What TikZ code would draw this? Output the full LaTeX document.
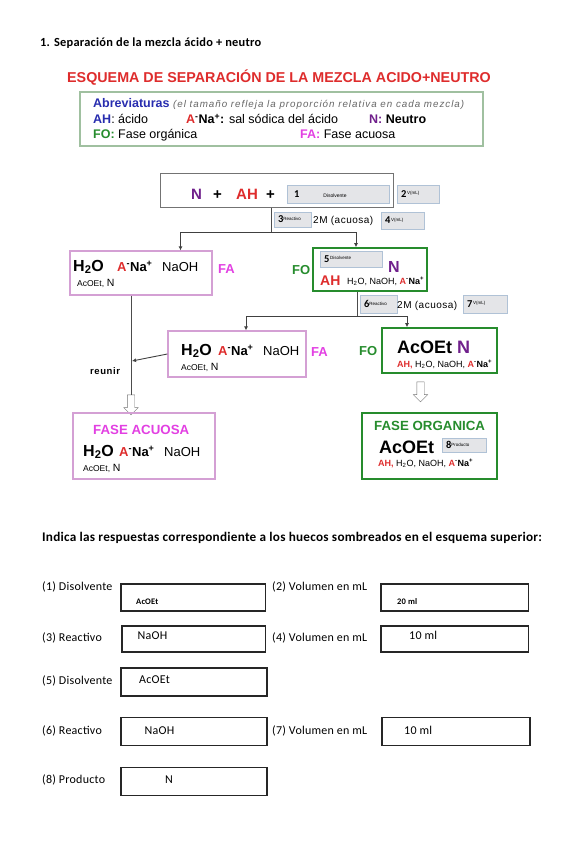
\documentclass[tikz,border=0pt]{standalone}
\usepackage{fontspec}
\setmainfont{Liberation Sans}
\newfontfamily\calfont[LetterSpace=2]{Carlito}
\usetikzlibrary{arrows.meta,positioning,shapes.arrows}
\definecolor{esqred}{RGB}{222,44,44}
\definecolor{abblue}{RGB}{40,45,175}
\definecolor{npurple}{RGB}{112,32,140}
\definecolor{fogreen}{RGB}{38,140,45}
\definecolor{famag}{RGB}{226,64,226}
\definecolor{fabord}{RGB}{212,160,212}
\definecolor{abbord}{RGB}{160,192,160}
\definecolor{hfill}{RGB}{228,229,232}
\definecolor{hdraw}{RGB}{176,194,214}
\newcommand{\fsz}[1]{\fontsize{#1}{#1}\selectfont}
\newcommand{\sodica}{\textbf{\textcolor{esqred}{A}\textsuperscript{-}Na\textsuperscript{+}}}
\newcommand{\hnum}[3]{\makebox[#1][l]{\hspace{3pt}{\calfont\bfseries\fsz{10.5}#2}\raisebox{2.5pt}{\fsz{4.5}#3}}}
\newcommand{\peque}{{\fsz{8.5}AcOEt,}~{\fsz{10.5}N}}

\begin{document}
\begin{tikzpicture}[x=1pt, y=-1pt,
  lbl/.style={anchor=base west, inner sep=0pt},
  hueco/.style={draw=hdraw, fill=hfill, inner sep=0pt, line width=0.8pt},
  caja/.style={draw=black!55, line width=1pt, inner sep=0pt},
  fabox/.style={draw=fabord, line width=1.2pt, inner sep=0pt},
  fobox/.style={draw=fogreen, line width=1.6pt, inner sep=0pt},
  resp/.style={draw=black!85, line width=1.2pt, inner sep=0pt},
  linea/.style={black!70, line width=0.9pt},
  arr/.style={-{Latex[length=4pt,width=4pt]}, black!75, line width=0.9pt},
  flecha/.style={single arrow, draw=black!55, fill=white, shape border rotate=270,
                 minimum height=20pt, single arrow head extend=3.5pt, inner sep=3.5pt},
  pre/.style={lbl, font=\calfont\fsz{12}},
  big/.style={lbl, font=\bfseries\fsz{16}},
  fase/.style={lbl, font=\bfseries\fsz{13}}
]
\useasboundingbox (0,0) rectangle (587,848);

% encabezado
\node[lbl, font=\calfont\bfseries\fsz{12.4}] (tit) at (40,47) {1. Separación de la mezcla ácido + neutro};
\node[anchor=base, inner sep=0pt, font=\bfseries\fsz{14.3}, text=esqred] (esq) at (279,83)
  {ESQUEMA DE SEPARACIÓN DE LA MEZCLA ACIDO+NEUTRO};

% abreviaturas
\node[draw=abbord, line width=1.3pt, minimum width=403pt, minimum height=54pt] (abr) at (281.5,119) {};
\node[lbl, font=\fsz{12.5}] (ab1) at (93,108) {\textcolor{abblue}{\textbf{Abreviaturas}}
  {\fsz{9.8}\itshape\addfontfeature{LetterSpace=10}\color{black!60}(el tamaño refleja la proporción relativa en cada mezcla)}};
\node[lbl, font=\fsz{12.5}] (ab2) at (93,124) {\textcolor{abblue}{\textbf{AH}}: ácido};
\node[lbl, font=\fsz{12.5}] (ab3) at (186,124) {\sodica\textbf{:} sal sódica del ácido};
\node[lbl, font=\fsz{12.5}] (ab4) at (369,124) {\textcolor{npurple}{\textbf{N:}} \textbf{Neutro}};
\node[lbl, font=\fsz{12.5}] (ab5) at (93,139) {\textcolor{fogreen}{\textbf{FO:}} Fase orgánica};
\node[lbl, font=\fsz{12.5}] (ab6) at (300,139) {\textcolor{famag}{\textbf{FA:}} Fase acuosa};

% mezcla inicial
\node[caja, minimum width=233pt, minimum height=34pt] (mez) at (276.5,190) {};
\node[lbl, font=\bfseries\fsz{15}, text=npurple] (mN) at (191,199) {N};
\node[lbl, font=\bfseries\fsz{15}] (mp1) at (213,199) {+};
\node[lbl, font=\bfseries\fsz{15}, text=esqred] (mAH) at (236,199) {AH};
\node[lbl, font=\bfseries\fsz{15}] (mp2) at (266,199) {+};
\node[hueco, minimum width=102pt, minimum height=18pt] (h1) at (338,194)
  {\makebox[98pt][l]{\hspace{5pt}{\calfont\bfseries\fsz{10.5}1}\hspace{24pt}{\fsz{5}Disolvente}}};
\node[hueco, minimum width=42pt, minimum height=18pt] (h2) at (418,194) {\hnum{40pt}{2}{\,V(mL)}};

% primera extraccion
\coordinate (j1) at (271,232);
\draw[linea] (j1 |- mez.south) -- (j1);
\node[hueco, minimum width=37pt, minimum height=15pt] (h3) at (292.5,219.5) {\hnum{35pt}{3}{Reactivo}};
\node[lbl, font=\fsz{10}\addfontfeature{LetterSpace=5}] (ac1) at (313,223) {2M (acuosa)};
\node[hueco, minimum width=43pt, minimum height=17pt] (h4) at (402.5,220.5) {\hnum{41pt}{4}{\,V(mL)}};

\node[fabox, minimum width=142pt, minimum height=44pt] (fa1) at (141,273) {};
\node[big] (fa1a) at (73,271) {H\textsubscript{2}O};
\node[lbl, font=\fsz{13}] (fa1b) at (117,271) {\sodica};
\node[lbl, font=\fsz{13}] (fa1c) at (162,271) {NaOH};
\node[lbl] (fa1d) at (77,286) {\peque};
\node[fase, text=famag] (fa1e) at (218,273) {FA};

\node[fase, text=fogreen] (fo1e) at (292,274) {FO};
\node[fobox, minimum width=114pt, minimum height=43pt] (fo1) at (370,269.5) {};
\node[hueco, minimum width=62pt, minimum height=16pt] (h5) at (351,259) {\hnum{60pt}{5}{\,Disolvente}};
\node[lbl, font=\bfseries\fsz{16}, text=npurple] (fo1a) at (388,272) {N};
\node[lbl, font=\bfseries\fsz{14}, text=esqred] (fo1b) at (320,285) {AH};
\node[lbl, font=\fsz{9}] (fo1c) at (347,284) {H\textsubscript{2}O, NaOH, \sodica};

\draw[arr] (j1) -| ([xshift=39.5pt]fa1.north);
\draw[arr] (j1) -| ([xshift=-14pt]fo1.north);

% segunda extraccion
\coordinate (j2) at (357,316);
\draw[linea] (j2 |- fo1.south) -- (j2);
\node[hueco, minimum width=37pt, minimum height=18pt] (h6) at (378.5,304) {\hnum{35pt}{6}{Reactivo}};
\node[lbl, font=\fsz{10}\addfontfeature{LetterSpace=5}] (ac2) at (397,308) {2M (acuosa)};
\node[hueco, minimum width=44pt, minimum height=18pt] (h7) at (485,304) {\hnum{42pt}{7}{\,V(mL)}};

\node[fabox, minimum width=138pt, minimum height=46pt] (fa2) at (237,354) {};
\node[big] (fa2a) at (181,355) {H\textsubscript{2}O};
\node[lbl, font=\fsz{13}] (fa2b) at (218,355) {\sodica};
\node[lbl, font=\fsz{13}] (fa2c) at (263,355) {NaOH};
\node[lbl] (fa2d) at (181,370) {\peque};
\node[fase, text=famag] (fa2e) at (311,356) {FA};

\node[fase, text=fogreen] (fo2e) at (359,355) {FO};
\node[fobox, minimum width=115pt, minimum height=45pt] (fo2) at (439.5,350.5) {};
\node[lbl, font=\bfseries\fsz{18}] (fo2a) at (397,353) {AcOEt \textcolor{npurple}{N}};
\node[lbl, font=\fsz{9}] (fo2b) at (397,367) {\textcolor{esqred}{\textbf{AH,}} H\textsubscript{2}O, NaOH, \sodica};

\draw[arr] (j2) -| ([xshift=9pt]fa2.north);
\draw[arr] (j2) -| ([xshift=-32.5pt]fo2.north);

% reunir fases acuosas
\coordinate (junta) at (132,361);
\node[flecha] (ha1) at (131,403) {};
\draw[linea] (fa1.south -| ha1) -- (ha1.tail);
\draw[arr] (fa2.west) -- (junta);
\node[lbl, font=\bfseries\fsz{9.5}\addfontfeature{LetterSpace=6}] (reu) at (90,374) {reunir};

\node[fabox, minimum width=142pt, minimum height=66pt] (fac) at (144,446) {};
\node[fase, text=famag, font=\bfseries\fsz{13.3}] (faca) at (93,434) {FASE ACUOSA};
\node[big] (facb) at (83,456) {H\textsubscript{2}O};
\node[lbl, font=\fsz{13}] (facc) at (119,456) {\sodica};
\node[lbl, font=\fsz{13}] (facd) at (164,456) {NaOH};
\node[lbl] (face) at (83,471) {\peque};

\node[flecha] (ha2) at (420.5,390) {};
\node[fobox, minimum width=135pt, minimum height=66pt] (forg) at (429.5,446) {};
\node[fase, text=fogreen, font=\bfseries\fsz{13.3}] (forga) at (374,430) {FASE ORGANICA};
\node[lbl, font=\bfseries\fsz{18}] (forgb) at (379,453) {AcOEt};
\node[hueco, minimum width=44pt, minimum height=14pt] (h8) at (464,445) {\hnum{42pt}{8}{Producto}};
\node[lbl, font=\fsz{9}] (forgc) at (378,466) {\textcolor{esqred}{\textbf{AH,}} H\textsubscript{2}O, NaOH, \sodica};

% respuestas
\node[lbl, font=\calfont\bfseries\fsz{13.2}] (ind) at (42,541)
  {Indica las respuestas correspondiente a los huecos sombreados en el esquema superior:};

\node[pre] (p1) at (42,590) {(1) Disolvente};
\node[resp, minimum width=144.5pt, minimum height=27pt] (q1) at (193.25,597.5) {};
\node[lbl, font=\calfont\bfseries\fsz{8.5}] (r1) at (136,604) {AcOEt};
\node[pre] (p2) at (272,590) {(2) Volumen en mL};
\node[resp, minimum width=147.5pt, minimum height=27pt] (q2) at (454.75,597.5) {};
\node[lbl, font=\calfont\bfseries\fsz{8.5}] (r2) at (397,604) {20 ml};

\node[pre] (p3) at (42,641) {(3) Reactivo};
\node[resp, minimum width=143.5pt, minimum height=26pt] (q3) at (193.75,639) {};
\node[pre] (r3) at (137.5,639) {NaOH};
\node[pre] (p4) at (272,641) {(4) Volumen en mL};
\node[resp, minimum width=147.5pt, minimum height=26pt] (q4) at (454.75,639) {};
\node[pre] (r4) at (409,639) {10 ml};

\node[pre] (p5) at (42,684) {(5) Disolvente};
\node[resp, minimum width=146pt, minimum height=28pt] (q5) at (194,682) {};
\node[pre] (r5) at (139,683) {AcOEt};

\node[pre] (p6) at (42,734) {(6) Reactivo};
\node[resp, minimum width=146pt, minimum height=28pt] (q6) at (194,731.5) {};
\node[pre] (r6) at (144.5,734) {NaOH};
\node[pre] (p7) at (272,734) {(7) Volumen en mL};
\node[resp, minimum width=148pt, minimum height=28pt] (q7) at (456,731.5) {};
\node[pre] (r7) at (404,734) {10 ml};

\node[pre] (p8) at (42,783) {(8) Producto};
\node[resp, minimum width=146pt, minimum height=28pt] (q8) at (194,781.5) {};
\node[pre] (r8) at (165,783) {N};
\end{tikzpicture}
\end{document}
